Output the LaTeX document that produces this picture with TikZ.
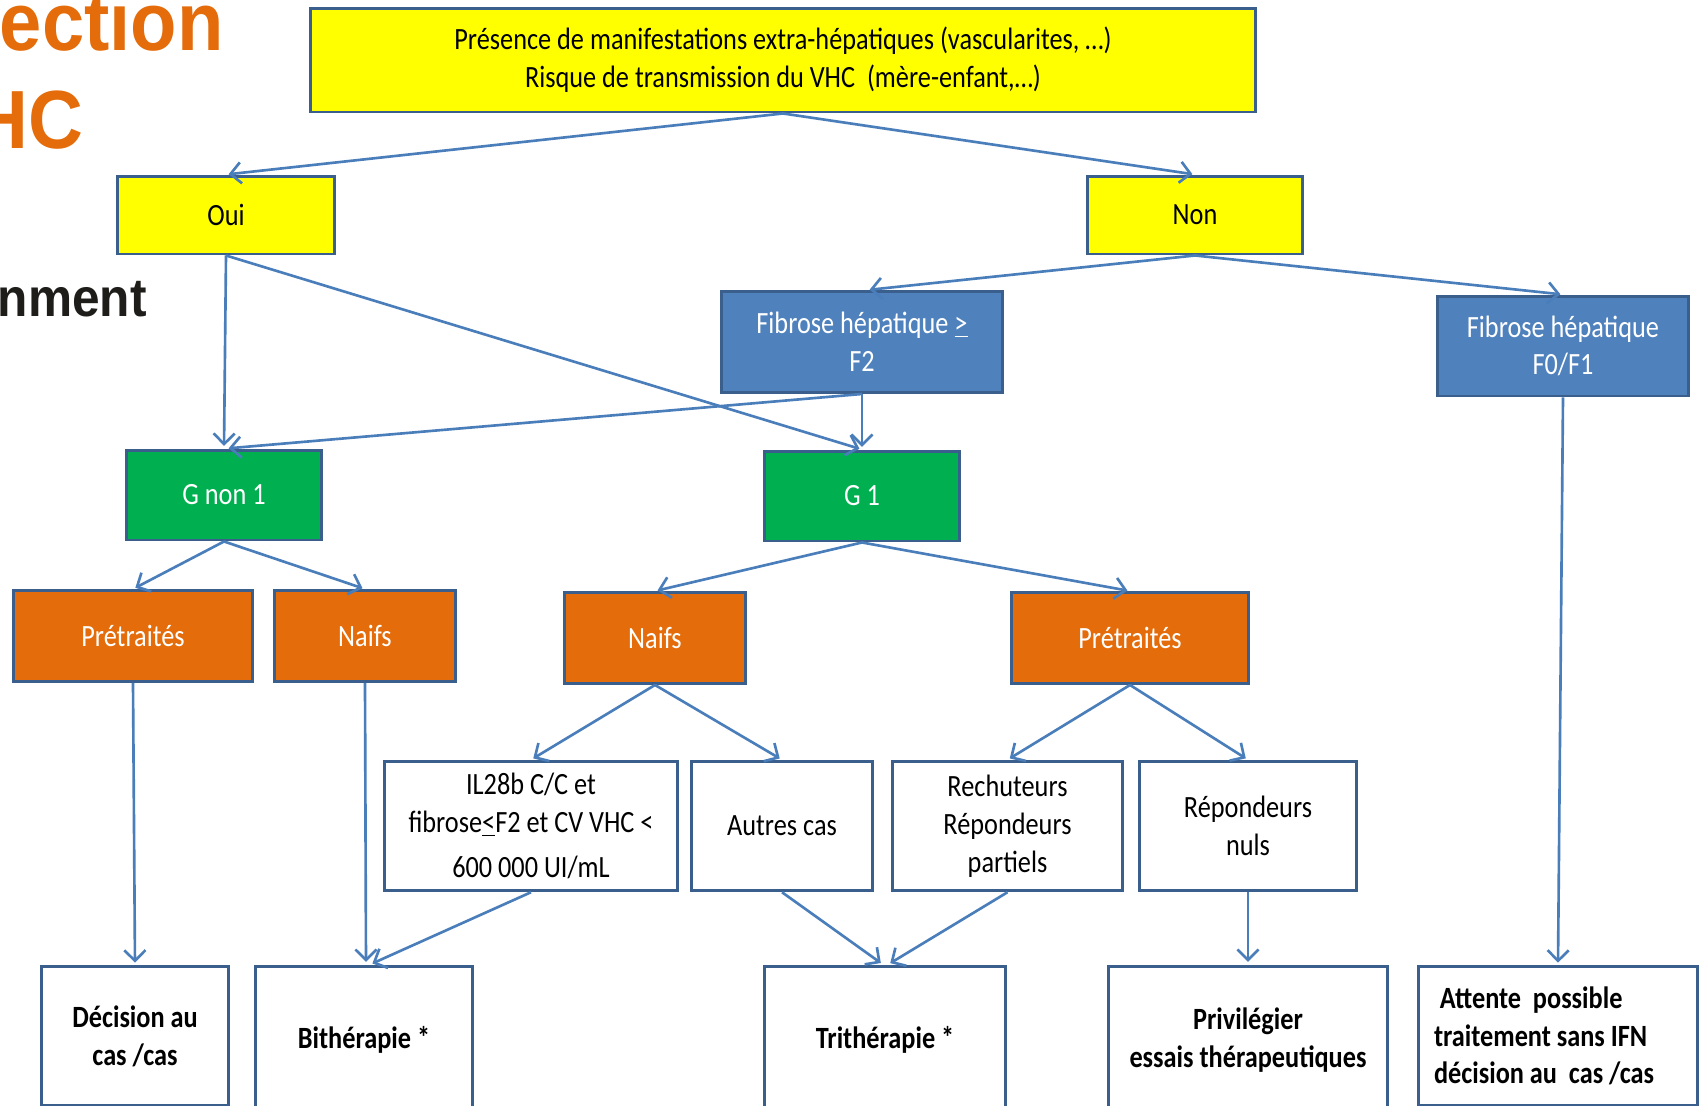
\documentclass[tikz,border=0pt]{standalone}
\usepackage{fontspec}
\setmainfont{Carlito}[FakeStretch=0.85]
\newfontfamily\titlefont{Liberation Sans}[FakeStretch=0.92]
\usetikzlibrary{arrows.meta}
\definecolor{lineBlue}{HTML}{4A7EBB}
\definecolor{frameBlue}{HTML}{3B5F8C}
\definecolor{boxYellow}{HTML}{FFFF00}
\definecolor{boxBlue}{HTML}{4F81BD}
\definecolor{boxGreen}{HTML}{00B050}
\definecolor{boxOrange}{HTML}{E46C0A}
\definecolor{titleOrange}{HTML}{E46C0A}
\definecolor{titleDark}{HTML}{1F1D1A}

\begin{document}
\begin{tikzpicture}[x=0.02cm,y=-0.02cm,>={Straight Barb[length=6pt,width=12pt]},
    box/.style={draw=frameBlue,line width=1.7pt,inner sep=0pt,align=center,
      font=\fontsize{17.6}{21.5}\selectfont},
    yesno/.style={box,fill=boxYellow},
    fibro/.style={box,fill=boxBlue,text=white},
    geno/.style={box,fill=boxGreen,text=white},
    prior/.style={box,fill=boxOrange,text=white},
    cond/.style={box,fill=white},
    reco/.style={box,fill=white,minimum height=2.77cm,
      font=\fontsize{17.6}{21.5}\selectfont\bfseries},
    link/.style={->,lineBlue,line width=1.5pt,shorten >=1.5pt}]
    \clip (0,0) rectangle (1705,1106);
    \fill[white] (0,0) rectangle (1705,1106);

    % slide title, cut at the left edge
    \node[anchor=base east,inner sep=0pt,text=titleOrange,
      font=\titlefont\fontsize{47}{50}\selectfont\bfseries] (t1) at (224,50) {ection};
    \node[anchor=base east,inner sep=0pt,text=titleOrange,
      font=\titlefont\fontsize{47}{50}\selectfont\bfseries] (t2) at (84,148) {HC};
    \node[anchor=base east,inner sep=0pt,text=titleDark,
      font=\titlefont\fontsize{30.7}{33}\selectfont\bfseries] (t3) at (147,316) {nnment};

    \node[yesno,minimum width=18.92cm,minimum height=2.08cm] (top) at (783,60)
      {Présence de manifestations extra-hépatiques (vascularites, …)\\
       Risque de transmission du VHC~ (mère-enfant,…)};
    \node[yesno,minimum width=4.35cm,minimum height=1.56cm] (oui) at (226,215) {Oui};
    \node[yesno,minimum width=4.3cm,minimum height=1.56cm] (non) at (1195,215) {Non};

    \node[fibro,minimum width=5.63cm,minimum height=2.02cm] (fsup) at (862,342)
      {Fibrose hépatique \underline{>}\\F2};
    \node[fibro,minimum width=5.02cm,minimum height=2cm] (finf) at (1563,346)
      {Fibrose hépatique\\F0/F1};

    \node[geno,minimum width=3.92cm,minimum height=1.8cm] (gnon) at (224,495) {G non 1};
    \node[geno,minimum width=3.9cm,minimum height=1.8cm] (gun) at (862,496) {G 1};

    \node[prior,minimum width=4.78cm,minimum height=1.82cm] (pretL) at (133,636) {Prétraités};
    \node[prior,minimum width=3.64cm,minimum height=1.82cm] (naifL) at (365,636) {Naifs};
    \node[prior,minimum width=3.64cm,minimum height=1.82cm] (naifM) at (655,638) {Naifs};
    \node[prior,minimum width=4.76cm,minimum height=1.82cm] (pretR) at (1130,638) {Prétraités};

    \node[cond,minimum width=5.85cm,minimum height=2.59cm] (il28) at (531,826)
      {IL28b C/C et\\fibrose\underline{<}F2 et CV VHC <\\[4pt]600 000 UI/mL};
    \node[cond,minimum width=3.61cm,minimum height=2.59cm] (autres) at (782,826) {Autres cas};
    \node[cond,minimum width=4.59cm,minimum height=2.59cm] (rechu) at (1007.5,826)
      {Rechuteurs\\Répondeurs\\partiels};
    \node[cond,minimum width=4.35cm,minimum height=2.59cm] (repnul) at (1248,826)
      {Répondeurs\\nuls};

    \node[reco,minimum width=3.76cm] (decis) at (135,1036) {Décision au\\cas /cas};
    \node[reco,minimum width=4.35cm,minimum height=2.96cm] (bithe) at (364,1040) {Bithérapie *};
    \node[reco,minimum width=4.83cm,minimum height=2.96cm] (trithe) at (885,1040) {Trithérapie *};
    \node[reco,minimum width=5.59cm,minimum height=2.96cm] (privi) at (1248,1040)
      {Privilégier\\essais thérapeutiques};
    \node[reco,minimum width=5.57cm,text width=4.96cm,align=flush left] (atten) at (1558,1036)
      {~Attente~ possible\\traitement sans IFN\\décision au~ cas /cas};

    \draw[link] (top.south) -- (oui.north);
    \draw[link] (top.south) -- (non.north);
    \draw[link] (oui.south) -- (gnon.north);
    \draw[link] (oui.south) -- (gun.north);
    \draw[link] (non.south) -- ([xshift=0.1cm]fsup.north);
    \draw[link] (non.south) -- (finf.north);
    \draw[link] (fsup.south) -- (gun.north);
    \draw[link] (fsup.south) -- ([xshift=0.04cm]gnon.north);
    \draw[link] (gnon.south) -- (pretL.north);
    \draw[link] (gnon.south) -- (naifL.north);
    \draw[link] (gun.south) -- (naifM.north);
    \draw[link] (gun.south) -- (pretR.north);
    \draw[link] (naifM.south) -- (il28.north);
    \draw[link] (naifM.south) -- (autres.north);
    \draw[link] (pretR.south) -- (rechu.north);
    \draw[link] (pretR.south) -- (repnul.north);
    \draw[link] (pretL.south) -- (decis.north);
    \draw[link] (naifL.south) -- ([xshift=0.04cm]bithe.north);
    \draw[link] (il28.south) -- ([xshift=0.12cm]bithe.north);
    \draw[link] (autres.south) -- ([xshift=-0.04cm]trithe.north);
    \draw[link] (rechu.south) -- ([xshift=0.06cm]trithe.north);
    \draw[link] (repnul.south) -- (privi.north);
    \draw[link] (finf.south) -- (atten.north);
  \end{tikzpicture}
\end{document}
